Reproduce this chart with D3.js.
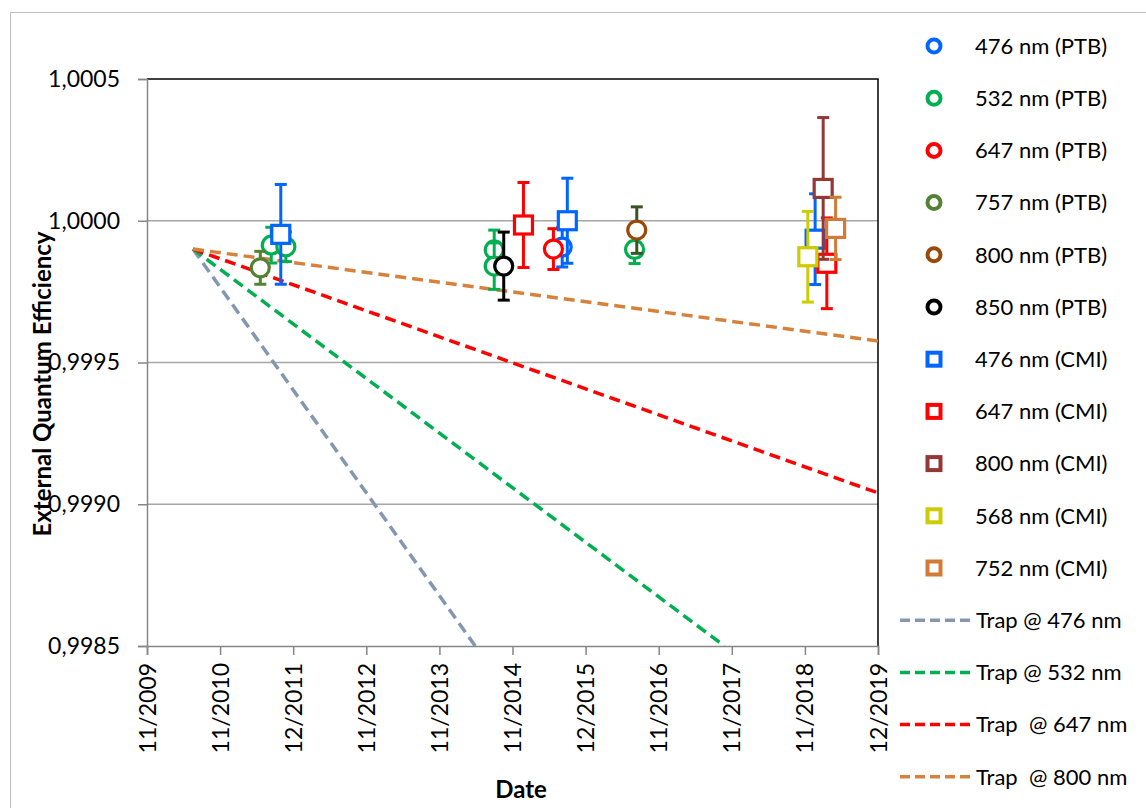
<!DOCTYPE html>
<html>
<head>
<meta charset="utf-8">
<script src="https://cdn.jsdelivr.net/npm/d3@7/dist/d3.min.js"></script>
<style>
body{margin:0;background:#fff;}
text{font-family:Lato,"Noto Sans",sans-serif;fill:#000;}
</style>
</head>
<body>
<div id="canvas"></div>
<script>
// measurements: [date as decimal year, EQE, uncertainty]
var ptb476 = [[2015.58, 0.999907, 0.00007]];
var ptb532 = [[2011.60, 0.999914, 0.000063], [2011.80, 0.999908, 0.000052],
              [2014.65, 0.999897, 0.00007], [2014.65, 0.999840, 0.000082],
              [2016.57, 0.999899, 0.00005]];
var ptb647 = [[2015.46, 0.999900, 0.000072]];
var ptb757 = [[2011.45, 0.999834, 0.000058]];
var ptb800 = [[2016.60, 0.999967, 0.000082]];
var ptb850 = [[2014.78, 0.999840, 0.00012]];
var cmi476 = [[2011.73, 0.999952, 0.000176], [2015.65, 1.000000, 0.00015], [2019.04, 0.999935, 0.00016]];
var cmi647 = [[2015.05, 0.999985, 0.00015], [2019.20, 0.999850, 0.00016]];
var cmi800 = [[2019.15, 1.000114, 0.00025]];
var cmi568 = [[2018.94, 0.999873, 0.00016]];
var cmi752 = [[2019.32, 0.999973, 0.00011]];

// trap drift lines: [decimal year, EQE]
var trap476 = [[2010.53, 0.99990], [2014.39, 0.99850]];
var trap532 = [[2010.53, 0.99990], [2017.80, 0.99850]];
var trap647 = [[2010.53, 0.99990], [2019.90, 0.99904]];
var trap800 = [[2010.53, 0.99990], [2019.90, 0.999576]];

var xTickYears = [2009.9, 2010.9, 2011.9, 2012.9, 2013.9, 2014.9, 2015.9, 2016.9, 2017.9, 2018.9, 2019.9];
var xTickLabels = ['11/2009', '11/2010', '12/2011', '11/2012', '11/2013', '11/2014',
                   '12/2015', '11/2016', '11/2017', '11/2018', '12/2019'];
var yTicks = [0.9985, 0.9990, 0.9995, 1.0000, 1.0005];

var pointSeries = [
    {name:'476 nm (PTB)', data:ptb476, shape:'circle', color:'#0066ff'},
    {name:'532 nm (PTB)', data:ptb532, shape:'circle', color:'#00b050'},
    {name:'647 nm (PTB)', data:ptb647, shape:'circle', color:'#ff0000'},
    {name:'757 nm (PTB)', data:ptb757, shape:'circle', color:'#548235'},
    {name:'800 nm (PTB)', data:ptb800, shape:'circle', color:'#984807', bar:'#375623'},
    {name:'850 nm (PTB)', data:ptb850, shape:'circle', color:'#000000'},
    {name:'476 nm (CMI)', data:cmi476, shape:'square', color:'#0066ff'},
    {name:'647 nm (CMI)', data:cmi647, shape:'square', color:'#ff0000'},
    {name:'800 nm (CMI)', data:cmi800, shape:'square', color:'#953735'},
    {name:'568 nm (CMI)', data:cmi568, shape:'square', color:'#cccc00'},
    {name:'752 nm (CMI)', data:cmi752, shape:'square', color:'#d07c38'}
];
var lineSeries = [
    {name:'Trap @ 476 nm', data:trap476, color:'#8497b0'},
    {name:'Trap @ 532 nm', data:trap532, color:'#00b050'},
    {name:'Trap  @ 647 nm', data:trap647, color:'#ff0000'},
    {name:'Trap  @ 800 nm', data:trap800, color:'#d6823c'}
];

var m = {t:79, l:147},
    w = 731,
    h = 567;

var svg = d3.select('#canvas').append('svg')
    .attr('width', 1146).attr('height', 808);

// chart area border
svg.append('rect')
    .attr('x', 10.5).attr('y', 12.5)
    .attr('width', 1150).attr('height', 810)
    .style('fill', 'none').style('stroke', '#bfbfbf');

var plot = svg.append('g').attr('transform', 'translate(' + m.l + ',' + m.t + ')');

var x = d3.scaleLinear().domain([2009.9, 2019.9]).range([0, w]);
var y = d3.scaleLinear().domain([0.9985, 1.0005]).range([h, 0]);

// gridlines
plot.selectAll('.grid')
    .data(yTicks.slice(1, 4))
    .enter().append('line').attr('class', 'grid')
    .attr('x1', 0).attr('x2', w)
    .attr('y1', function(d){return y(d)}).attr('y2', function(d){return y(d)})
    .style('stroke', '#a6a6a6').style('stroke-width', 1.5);

// top and right border
plot.append('path')
    .attr('d', 'M0,' + y(1.0005) + 'H' + w + 'V' + h)
    .style('fill', 'none').style('stroke', '#000').style('stroke-width', 1.5);

var yAxis = plot.append('g')
    .call(d3.axisLeft(y).tickValues(yTicks).tickSize(9).tickPadding(18)
        .tickFormat(function(d){return d3.format('.4f')(d).replace('.', ',')}));

var xAxis = plot.append('g')
    .attr('transform', 'translate(0,' + h + ')')
    .call(d3.axisBottom(x).tickValues(xTickYears).tickSize(9)
        .tickFormat(function(d, i){return xTickLabels[i]}));

xAxis.selectAll('text')
    .attr('transform', 'rotate(-90)')
    .attr('text-anchor', 'end')
    .attr('x', -17).attr('y', 0).attr('dy', '0.35em');

[xAxis, yAxis].forEach(function(a){
    a.selectAll('path, line').style('stroke', '#868686').style('stroke-width', 1.5);
    a.selectAll('text').style('font-size', '23px').style('font-family', 'Lato');
});

// trap lines, clipped to the plot
svg.append('clipPath').attr('id', 'clip')
    .append('rect').attr('width', w).attr('height', h);

var line = d3.line()
    .x(function(d){return x(d[0])}).y(function(d){return y(d[1])});

plot.append('g').attr('clip-path', 'url(#clip)')
    .selectAll('.trap')
    .data(lineSeries)
    .enter().append('path').attr('class', 'trap')
    .attr('d', function(s){return line(s.data)})
    .style('fill', 'none')
    .style('stroke', function(s){return s.color})
    .style('stroke-width', 3.5)
    .style('stroke-dasharray', '11,6');

// points with error bars
pointSeries.forEach(function(s){
    var g = plot.append('g');
    var barColor = s.bar || s.color;
    var pts = g.selectAll('.pt').data(s.data).enter().append('g');

    pts.append('line')
        .attr('x1', function(d){return x(d[0])}).attr('x2', function(d){return x(d[0])})
        .attr('y1', function(d){return y(d[1] + d[2])}).attr('y2', function(d){return y(d[1] - d[2])})
        .style('stroke', barColor).style('stroke-width', 3);
    [1, -1].forEach(function(sign){
        pts.append('line')
            .attr('x1', function(d){return x(d[0]) - 6}).attr('x2', function(d){return x(d[0]) + 6})
            .attr('y1', function(d){return y(d[1] + sign*d[2])}).attr('y2', function(d){return y(d[1] + sign*d[2])})
            .style('stroke', barColor).style('stroke-width', 3);
    });

    if(s.shape == 'circle'){
        pts.append('circle')
            .attr('cx', function(d){return x(d[0])}).attr('cy', function(d){return y(d[1])})
            .attr('r', 9);
    } else {
        pts.append('rect')
            .attr('x', function(d){return x(d[0]) - 9}).attr('y', function(d){return y(d[1]) - 9})
            .attr('width', 18).attr('height', 18);
    }
    pts.selectAll('circle, rect')
        .style('fill', '#fff').style('stroke', s.color).style('stroke-width', 3.2);
});

// legend
var legend = svg.append('g');
var allEntries = pointSeries.concat(lineSeries);
var item = legend.selectAll('.item')
    .data(allEntries)
    .enter().append('g').attr('class', 'item')
    .attr('transform', function(d, i){return 'translate(0,' + (46 + i*52.2) + ')'});

item.each(function(d){
    var g = d3.select(this);
    if(d.shape == 'circle'){
        g.append('circle').attr('cx', 934).attr('cy', 0).attr('r', 6.5)
            .style('fill', '#fff').style('stroke', d.color).style('stroke-width', 4);
    } else if(d.shape == 'square'){
        g.append('rect').attr('x', 927.5).attr('y', -6.5).attr('width', 13).attr('height', 13)
            .style('fill', '#fff').style('stroke', d.color).style('stroke-width', 4);
    } else {
        g.append('line').attr('x1', 900).attr('x2', 970).attr('y1', 0).attr('y2', 0)
            .style('stroke', d.color).style('stroke-width', 3.5).style('stroke-dasharray', '10,5');
    }
    g.append('text')
        .attr('x', d.shape ? 975 : 976).attr('y', 0).attr('dy', '0.35em')
        .style('font-size', '22px')
        .style('white-space', 'pre')
        .text(d.name);
});

// axis titles
svg.append('text')
    .attr('transform', 'translate(51,384) rotate(-90)')
    .attr('text-anchor', 'middle')
    .style('font-size', '24px').style('font-weight', 'bold')
    .text('External Quantum Efficiency');

svg.append('text')
    .attr('x', 521).attr('y', 798)
    .attr('text-anchor', 'middle')
    .style('font-size', '24px').style('font-weight', 'bold')
    .text('Date');
</script>
</body>
</html>
